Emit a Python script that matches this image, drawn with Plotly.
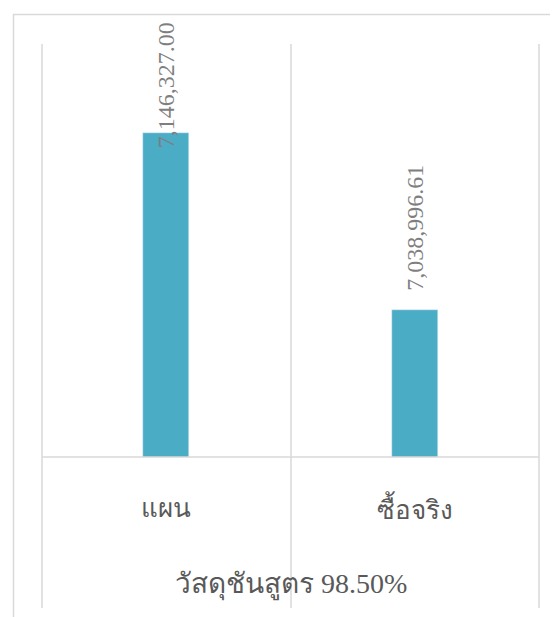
import plotly.graph_objects as go

categories = ["แผน", "ซื้อจริง"]
values = [7146327.00, 7038996.61]
value_labels = ["7,146,327.00", "7,038,996.61"]
group_label = "วัสดุชันสูตร 98.50%"

OFF = 8  # page body margin
W, H = 558 - OFF, 617 - OFF
ML, MR, MT, MB = 42 - OFF, 19, 44 - OFF, 160
PW, PH = W - ML - MR, H - MT - MB
YMIN, YMAX = 6950000, 7200000

bar_color = "#4BACC6"
grid_color = "#D9D9D9"
label_gray = "#7F7F7F"
text_gray = "#595959"
serif_family = "Liberation Serif, serif"

def px_x(px):
    return (px - OFF - ML) / PW

def px_y(py):
    return (H - MB - (py - OFF)) / PH

fig = go.Figure()
fig.add_trace(go.Bar(
    x=categories, y=values, marker_color=bar_color, width=0.185,
    hoverinfo="skip",
))

label_font = dict(family=serif_family, size=24, color=label_gray)
text_len_px = 126
gap_px = 17
top_limit_px = 24 - OFF
for cat, v, lab in zip(categories, values, value_labels):
    bar_top_px = (H - MB) - (v - YMIN) / (YMAX - YMIN) * PH
    bottom_px = bar_top_px - gap_px
    if bottom_px - text_len_px < top_limit_px:
        bottom_px = top_limit_px + text_len_px
    fig.add_annotation(
        x=cat, y=v, xref="x", yref="y", text=lab, textangle=-90,
        showarrow=False, font=label_font, xanchor="center", yanchor="bottom",
        yshift=bar_top_px - bottom_px,
    )

for cat in categories:
    fig.add_annotation(
        x=cat, xref="x", y=px_y(508), yref="paper", text=cat, showarrow=False,
        font=dict(family=serif_family, size=26, color=text_gray, weight=300),
        xanchor="center", yanchor="middle",
    )
fig.add_annotation(
    x=0.5, xref="paper", y=px_y(584), yref="paper", text=group_label, showarrow=False,
    font=dict(family=serif_family, size=28, color=text_gray, weight=300),
    xanchor="center", yanchor="middle",
)

shapes = []
shapes.append(dict(type="rect", xref="paper", yref="paper",
                   x0=px_x(13.5), x1=px_x(580), y0=px_y(14.5), y1=px_y(660),
                   line=dict(color=grid_color, width=1.5)))
for xp in (42, 291, 539):
    shapes.append(dict(type="line", xref="paper", yref="paper",
                       x0=px_x(xp), x1=px_x(xp), y0=px_y(44), y1=px_y(608),
                       line=dict(color=grid_color, width=1.5)))
shapes.append(dict(type="line", xref="paper", yref="paper",
                   x0=0, x1=1, y0=0, y1=0, line=dict(color=grid_color, width=1.5)))

fig.update_layout(
    width=W, height=H, margin=dict(l=ML, r=MR, t=MT, b=MB),
    paper_bgcolor="white", plot_bgcolor="white",
    showlegend=False, shapes=shapes,
    xaxis=dict(showticklabels=False, showgrid=False, zeroline=False, showline=False,
               range=[-0.5, 1.5]),
    yaxis=dict(range=[YMIN, YMAX], visible=False),
    bargap=0,
)
fig.write_html("out.html")
